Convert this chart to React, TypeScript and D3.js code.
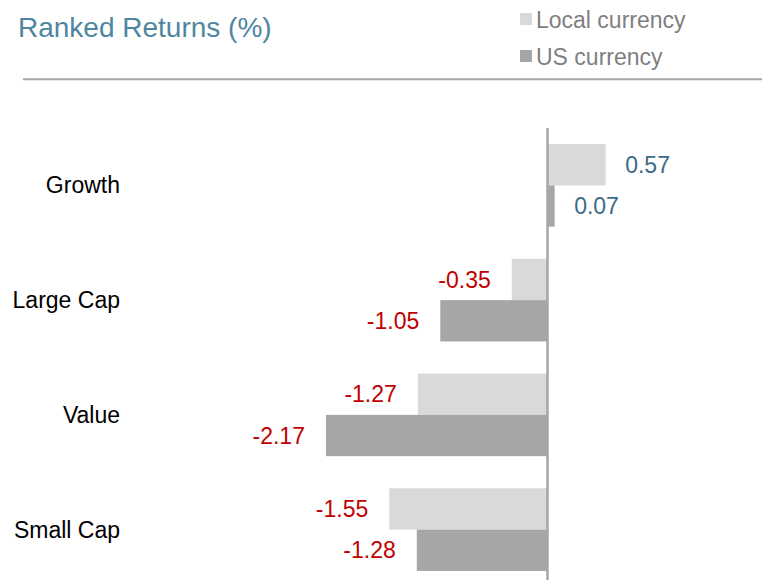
import React from "react";
import * as d3 from "d3";

const categories = ["Growth", "Large Cap", "Value", "Small Cap"];
const seriesNames = ["Local currency", "US currency"];
const localValues = [0.57, -0.35, -1.27, -1.55];
const usValues = [0.07, -1.05, -2.17, -1.28];
const seriesColors = ["#d9d9d9", "#a6a6a6"];

const W = 762;
const H = 580;
const FONT = "'Liberation Sans', Arial, Helvetica, sans-serif";

export default function App() {
  const x = d3.scaleLinear().domain([-2.5, 1]).range([547.5 - 2.5 * 102.1, 547.5 + 102.1]);
  const y = d3
    .scaleBand<string>()
    .domain(categories)
    .range([128, 587])
    .paddingInner(0.28)
    .paddingOuter(0.14);
  const inner = d3.scaleBand<string>().domain(seriesNames).range([0, y.bandwidth()]).padding(0);
  const values = [localValues, usValues];

  const bars: React.ReactNode[] = [];
  const labels: React.ReactNode[] = [];
  categories.forEach((c, ci) => {
    seriesNames.forEach((s, si) => {
      const v = values[si][ci];
      const y0 = (y(c) as number) + (inner(s) as number);
      const h = inner.bandwidth();
      const x0 = Math.min(x(0), x(v));
      const w = Math.abs(x(v) - x(0));
      bars.push(<rect key={`b${ci}${si}`} x={x0} y={y0} width={w} height={h} fill={seriesColors[si]} />);
      const pos = v >= 0;
      labels.push(
        <text
          key={`l${ci}${si}`}
          x={pos ? x(v) + 19.5 : x(v) - 21}
          y={y0 + h / 2}
          dy="0.35em"
          textAnchor={pos ? "start" : "end"}
          fill={pos ? "#3d6a86" : "#c00000"}
          fontSize={23}
        >
          {v.toFixed(2)}
        </text>
      );
    });
  });

  return (
    <svg
      width={W}
      height={H}
      style={{ position: "absolute", left: 0, top: 0, fontFamily: FONT }}
    >
      <rect width={W} height={H} fill="#ffffff" />
      <text x={18} y={37} fontSize={28} fill="#4e86a0">
        Ranked Returns (%)
      </text>
      {seriesNames.map((s, i) => (
        <g key={s} transform={`translate(520, ${13 + i * 37})`}>
          <rect x={0} y={0} width={12} height={12} fill={seriesColors[i]} />
          <text x={16} y={14.5} fontSize={23} fill="#7f7f7f">
            {s}
          </text>
        </g>
      ))}
      <line x1={23} x2={762} y1={79.3} y2={79.3} stroke="#a6a6a6" strokeWidth={2} />
      {bars}
      <line x1={x(0)} x2={x(0)} y1={128} y2={580} stroke="#a6a6a6" strokeWidth={2.5} />
      {labels}
      {categories.map((c) => (
        <text
          key={c}
          x={120}
          y={(y(c) as number) + y.bandwidth() / 2}
          dy="0.35em"
          textAnchor="end"
          fontSize={23}
          fill="#000000"
        >
          {c}
        </text>
      ))}
    </svg>
  );
}
